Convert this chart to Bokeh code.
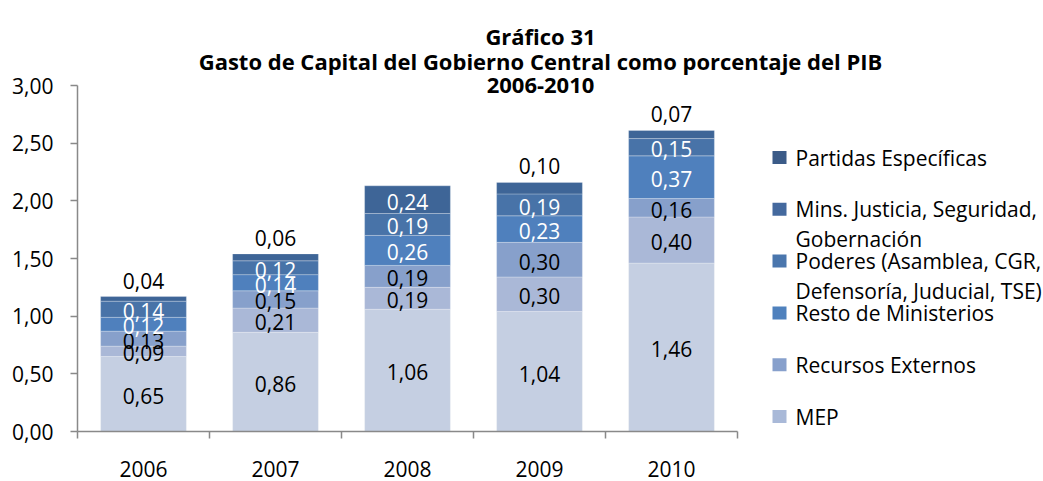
from bokeh.plotting import figure
from bokeh.models import (ColumnDataSource, Range1d, FixedTicker, CustomJSTickFormatter,
                          Label, BoxAnnotation)
from bokeh.core.properties import value
from bokeh.embed import file_html
from bokeh.resources import INLINE

# ---------------- data ----------------
years = ["2006", "2007", "2008", "2009", "2010"]
series = ["MEP", "Recursos Externos", "Resto de Ministerios",
          "Poderes (Asamblea, CGR,\nDefensoría, Juducial, TSE)",
          "Mins. Justicia, Seguridad,\nGobernación", "Partidas Específicas"]
mep = [0.65, 0.86, 1.06, 1.04, 1.46]
recursos = [0.09, 0.21, 0.19, 0.30, 0.40]
resto = [0.13, 0.15, 0.19, 0.30, 0.16]
poderes = [0.12, 0.14, 0.26, 0.23, 0.37]
mins = [0.14, 0.12, 0.19, 0.19, 0.15]
partidas = [0.04, 0.06, 0.24, 0.10, 0.07]
values = [mep, recursos, resto, poderes, mins, partidas]
y_ticks = [0.0, 0.5, 1.0, 1.5, 2.0, 2.5, 3.0]
title_lines = ["Gráfico 31",
               "Gasto de Capital del Gobierno Central como porcentaje del PIB",
               "2006-2010"]

# ---------------- styles / layout ----------------
FONT = "Open Sans"
bar_colors = ["#c5cfe2", "#aab8d7", "#87a0cb", "#4f80bd", "#4873a8", "#3e6597"]
legend_colors = ["#a9b9d8", "#87a0cc", "#4f81bd", "#4a76ad", "#44699e", "#3b5b88"]
label_colors = ["black", "black", "black", "white", "white", "white"]
AXIS_COLOR = "#898989"

W, H = 1043, 481
FRAME_LEFT, FRAME_BOTTOM = 77, 431
PX_X = 132.0            # pixels per category
PX_Y = 346.0 / 3.0      # pixels per 1.00 of y
x_end = (W - FRAME_LEFT) / PX_X
y_end = FRAME_BOTTOM / PX_Y

p = figure(width=W, height=H, output_backend="svg", toolbar_location=None,
           x_range=Range1d(0, x_end), y_range=Range1d(0, y_end),
           min_border_left=FRAME_LEFT, min_border_right=0, min_border_top=0,
           min_border_bottom=H - FRAME_BOTTOM)
p.outline_line_color = None
p.xgrid.visible = False
p.ygrid.visible = False
p.background_fill_color = "white"
p.border_fill_color = "white"

keys = ["s%d" % i for i in range(len(series))]
data = {"x": [i + 0.5 for i in range(len(years))]}
for k, v in zip(keys, values):
    data[k] = v
src = ColumnDataSource(data)
p.vbar_stack(keys, x="x", width=0.65, color=bar_colors, source=src,
             line_color="white", line_alpha=0.25, line_width=1)

# ---------------- data labels ----------------
inside = dict(x=[], y=[], t=[], c=[])
above = dict(x=[], y=[], t=[])
cum = [0.0] * len(years)
for si, vals in enumerate(values):
    for i, v in enumerate(vals):
        txt = ("%.2f" % v).replace(".", ",")
        top = cum[i] + v
        if si == len(values) - 1 and v < 0.2:
            above["x"].append(i + 0.5); above["y"].append(top); above["t"].append(txt)
        else:
            inside["x"].append(i + 0.5); inside["y"].append(cum[i] + v / 2)
            inside["t"].append(txt); inside["c"].append(label_colors[si])
        cum[i] = top
p.text(x="x", y="y", text="t", text_color="c", text_baseline="middle", y_offset=2,
       text_align="center", text_font=value(FONT), text_font_size="21px",
       source=ColumnDataSource(inside))
p.text(x="x", y="y", text="t", text_color="black", text_baseline="middle", y_offset=-16,
       text_align="center", text_font=value(FONT), text_font_size="21px",
       source=ColumnDataSource(above))

# ---------------- axes ----------------
p.yaxis.bounds = (0, 3)
p.yaxis.ticker = FixedTicker(ticks=y_ticks)
p.yaxis.formatter = CustomJSTickFormatter(code="return tick.toFixed(2).replace('.', ',');")
p.yaxis.axis_line_color = AXIS_COLOR
p.yaxis.axis_line_width = 1.5
p.yaxis.major_tick_line_color = AXIS_COLOR
p.yaxis.major_tick_line_width = 1.5
p.yaxis.major_tick_out = 7
p.yaxis.major_tick_in = 0
p.yaxis.minor_tick_line_color = None
p.yaxis.major_label_text_font = FONT
p.yaxis.major_label_text_font_size = "21px"
p.yaxis.major_label_text_color = "black"
p.yaxis.major_label_standoff = 17

p.xaxis.bounds = (0, len(years))
p.xaxis.ticker = FixedTicker(ticks=[i + 0.5 for i in range(len(years))],
                             minor_ticks=list(range(len(years) + 1)))
p.xaxis.formatter = CustomJSTickFormatter(args=dict(cats=years),
                                          code="return cats[Math.floor(tick)];")
p.xaxis.axis_line_color = AXIS_COLOR
p.xaxis.axis_line_width = 1.5
p.xaxis.major_tick_line_color = None
p.xaxis.major_tick_out = 0
p.xaxis.major_tick_in = 0
p.xaxis.minor_tick_line_color = AXIS_COLOR
p.xaxis.minor_tick_line_width = 1.5
p.xaxis.minor_tick_out = 7
p.xaxis.minor_tick_in = 0
p.xaxis.major_label_text_font = FONT
p.xaxis.major_label_text_font_size = "21px"
p.xaxis.major_label_text_color = "black"
p.xaxis.major_label_standoff = 22


def dx(px):
    return (px - FRAME_LEFT) / PX_X


def dy(py):
    return (FRAME_BOTTOM - py) / PX_Y


# ---------------- title ----------------
for k, line in enumerate(title_lines):
    p.add_layout(Label(x=dx(540), y=dy(35 + 25 * k), text=line, text_align="center",
                       text_baseline="alphabetic", text_font=FONT,
                       text_font_size="22px", text_font_style="bold",
                       text_color="black"))

# ---------------- legend (manual) ----------------
for j, si in enumerate(reversed(range(len(series)))):
    cy = 157 + 51.8 * j
    p.add_layout(BoxAnnotation(left=dx(772), right=dx(786), bottom=dy(cy + 6.5),
                               top=dy(cy - 6.5), fill_color=legend_colors[si],
                               fill_alpha=1, line_color=None))
    for li, part in enumerate(series[si].split("\n")):
        p.add_layout(Label(x=dx(795), y=dy(cy + 30 * li), text=part,
                           text_align="left", text_baseline="middle",
                           text_font=FONT, text_font_size="21px",
                           text_color="black"))

open("out.html", "w").write(file_html(p, INLINE))
